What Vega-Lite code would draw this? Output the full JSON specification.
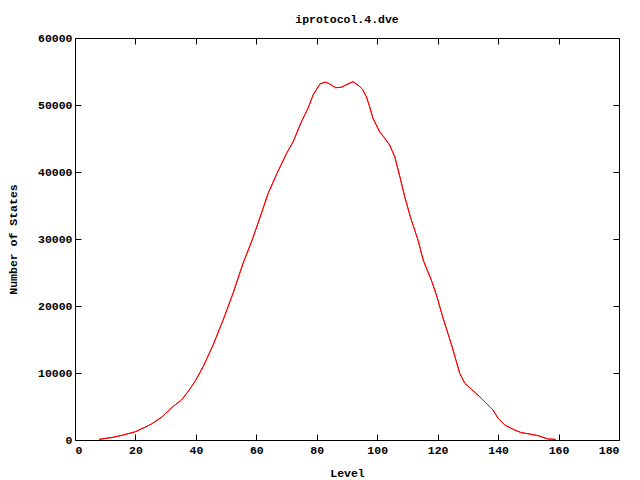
{
  "$schema": "https://vega.github.io/schema/vega-lite/v6.json",
  "width": 544,
  "height": 402,
  "autosize": {"type": "none"},
  "padding": {"left": 75, "top": 38, "right": 21, "bottom": 40},
  "background": "white",
  "title": {
    "text": "iprotocol.4.dve",
    "font": "Liberation Mono",
    "fontSize": 11.5,
    "fontWeight": "bold",
    "color": "black",
    "anchor": "middle",
    "offset": 7
  },
  "config": {
    "view": {"stroke": "black", "strokeWidth": 1},
    "axis": {
      "grid": false,
      "domain": false,
      "tickColor": "black",
      "tickSize": -6,
      "labelFont": "Liberation Mono",
      "labelFontSize": 11.5,
      "labelFontWeight": "bold",
      "labelColor": "black",
      "titleFont": "Liberation Mono",
      "titleFontSize": 11.5,
      "titleFontWeight": "bold",
      "titleColor": "black"
    }
  },
  "data": {
    "values": [
      {"level": 8, "states": 100},
      {"level": 12.6, "states": 400},
      {"level": 16, "states": 750},
      {"level": 20, "states": 1240},
      {"level": 23.6, "states": 2000},
      {"level": 25.3, "states": 2390},
      {"level": 28.6, "states": 3380},
      {"level": 32.4, "states": 4970},
      {"level": 35.2, "states": 5970},
      {"level": 37.4, "states": 7210},
      {"level": 40, "states": 8950},
      {"level": 42.4, "states": 10940},
      {"level": 45.7, "states": 14180},
      {"level": 49, "states": 17900},
      {"level": 52.3, "states": 21900},
      {"level": 55.6, "states": 26370},
      {"level": 58.5, "states": 29700},
      {"level": 60.9, "states": 32800},
      {"level": 63.9, "states": 36800},
      {"level": 66.6, "states": 39550},
      {"level": 70, "states": 42790},
      {"level": 72.2, "states": 44520},
      {"level": 74.9, "states": 47500},
      {"level": 77.1, "states": 49500},
      {"level": 78.8, "states": 51500},
      {"level": 81, "states": 53130},
      {"level": 82.9, "states": 53430},
      {"level": 84.3, "states": 53130},
      {"level": 86.2, "states": 52580},
      {"level": 88.1, "states": 52640},
      {"level": 90.3, "states": 53130},
      {"level": 92, "states": 53480},
      {"level": 94, "states": 52840},
      {"level": 95.2, "states": 52300},
      {"level": 96.4, "states": 51240},
      {"level": 97.5, "states": 49750},
      {"level": 98.6, "states": 48010},
      {"level": 100.8, "states": 46010},
      {"level": 102.5, "states": 45030},
      {"level": 104.1, "states": 44030},
      {"level": 105.8, "states": 42280},
      {"level": 107.5, "states": 39300},
      {"level": 109.1, "states": 36310},
      {"level": 111.1, "states": 33090},
      {"level": 112.4, "states": 31340},
      {"level": 113.5, "states": 29850},
      {"level": 115.2, "states": 26870},
      {"level": 116.3, "states": 25620},
      {"level": 117.9, "states": 23880},
      {"level": 119.6, "states": 21640},
      {"level": 121.8, "states": 18160},
      {"level": 124.6, "states": 14180},
      {"level": 126.2, "states": 11690},
      {"level": 127.3, "states": 9950},
      {"level": 129, "states": 8460},
      {"level": 131.2, "states": 7560},
      {"level": 133.9, "states": 6460},
      {"level": 136.1, "states": 5470},
      {"level": 138.3, "states": 4480},
      {"level": 140, "states": 3240},
      {"level": 142.2, "states": 2240},
      {"level": 145, "states": 1590},
      {"level": 147.7, "states": 1090},
      {"level": 150.5, "states": 890},
      {"level": 153.2, "states": 650},
      {"level": 156.5, "states": 150},
      {"level": 159, "states": 100}
    ]
  },
  "layer": [
    {
      "mark": {"type": "line", "color": "#ff0000", "strokeWidth": 1},
      "encoding": {
        "x": {
          "field": "level", "type": "quantitative",
          "scale": {"domain": [0, 180], "nice": false},
          "axis": {"title": "Level", "values": [0,20,40,60,80,100,120,140,160,180], "format": "d", "labelPadding": 10, "titlePadding": 12, "orient": "bottom"}
        },
        "y": {
          "field": "states", "type": "quantitative",
          "scale": {"domain": [0, 60000], "nice": false},
          "axis": {"title": "Number of States", "values": [0,10000,20000,30000,40000,50000,60000], "format": "d", "labelPadding": 9, "titlePadding": 19, "orient": "left"}
        }
      }
    },
    {
      "mark": {"type": "line", "color": "#ff0000", "strokeWidth": 1},
      "encoding": {
        "x": {
          "field": "level", "type": "quantitative",
          "scale": {"domain": [0, 180], "nice": false},
          "axis": {"title": null, "labels": false, "values": [0,20,40,60,80,100,120,140,160,180], "orient": "top"}
        },
        "y": {
          "field": "states", "type": "quantitative",
          "scale": {"domain": [0, 60000], "nice": false},
          "axis": {"title": null, "labels": false, "values": [0,10000,20000,30000,40000,50000,60000], "orient": "right"}
        }
      }
    }
  ],
  "resolve": {"axis": {"x": "independent", "y": "independent"}}
}
